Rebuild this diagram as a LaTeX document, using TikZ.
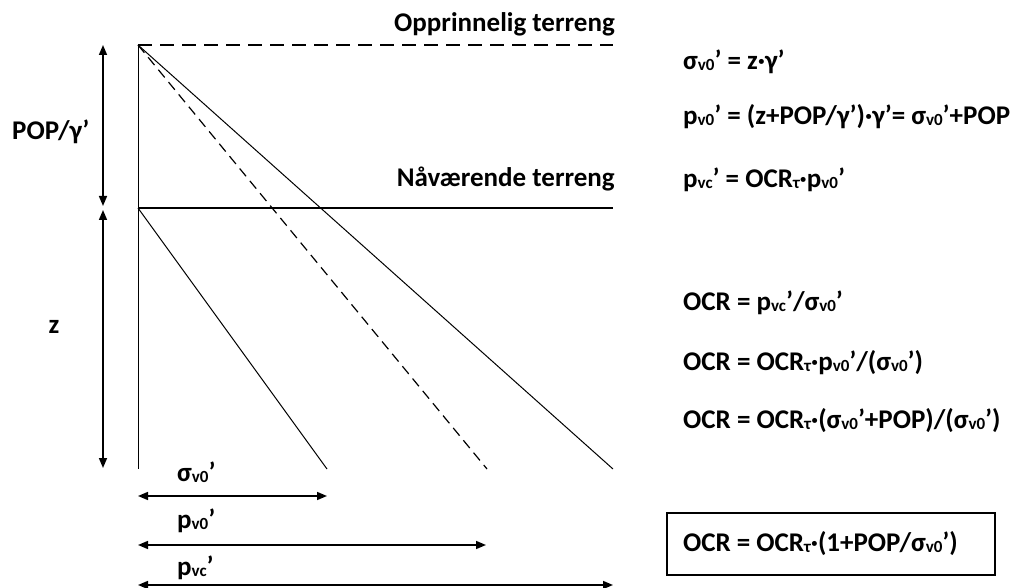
\documentclass[tikz,border=0pt]{standalone}
\usepackage{fontspec}
\setmainfont{Carlito}
\usetikzlibrary{arrows.meta}

\newcommand{\subtxt}[1]{\raisebox{-1pt}{\fontsize{17}{17}\selectfont #1}}

\begin{document}
\begin{tikzpicture}[
  x=1pt, y=-1pt,
  txt/.style={font=\bfseries\fontsize{27}{32}\selectfont, inner sep=0pt},
  eq/.style={txt, anchor=base west},
  thinline/.style={line width=1pt},
  dimarrow/.style={{Triangle[length=10pt,width=8pt]}-{Triangle[length=10pt,width=8pt]}, line width=1.5pt},
]
\useasboundingbox (0,0) rectangle (1015,588);

% === GROUND SURFACES ===
\coordinate (top) at (138,45);
\coordinate (topR) at (613,45);
\coordinate (now) at (138,208);
\coordinate (nowR) at (613,208);
\coordinate (bot) at (138,469);

\draw[line width=1.5pt, dash pattern=on 14pt off 8pt] (top) -- (topR);
\draw[line width=1.3pt] (now) -- (nowR);
\draw[thinline] (top) -- (bot);

\node[txt, anchor=base east] (orig) at (615,32) {Opprinnelig terreng};
\node[txt, anchor=base east] (curr) at (615,187) {Nåværende terreng};

% === STRESS LINES ===
\coordinate (sigEnd) at (327,469);
\coordinate (p0End) at (487,469);
\coordinate (pcEnd) at (613,469);
\draw[thinline] (now) -- (sigEnd);
\draw[line width=1.2pt, dash pattern=on 10pt off 6pt] (top) -- (p0End);
\draw[thinline] (top) -- (pcEnd);

% === DEPTH DIMENSIONS ===
\coordinate (d1) at (103,45);
\coordinate (d2) at (103,206);
\coordinate (d3) at (103,210);
\coordinate (d4) at (103,468);
\draw[dimarrow] (d1) -- (d2);
\draw[dimarrow] (d3) -- (d4);
\node[txt, anchor=base west] (popg) at (12,140) {POP/γ’};
\node[txt, anchor=base] (zlab) at (54,333) {z};

% === STRESS DIMENSIONS ===
\coordinate (a0) at (138,496);
\coordinate (a1) at (327,496);
\coordinate (b0) at (138,545);
\coordinate (b1) at (486,545);
\coordinate (c0) at (138,585);
\coordinate (c1) at (613,585);
\draw[dimarrow] (a0) -- (a1);
\draw[dimarrow] (b0) -- (b1);
\draw[dimarrow] (c0) -- (c1);
\node[eq] (siglab) at (177,481) {σ\subtxt{v0}’};
\node[eq] (p0lab) at (177,528) {p\subtxt{v0}’};
\node[eq] (pclab) at (177,575) {p\subtxt{vc}’};

% === EQUATIONS ===
\node[eq] (e1) at (683,70) {σ\subtxt{v0}’ = z·γ’};
\node[eq] (e2) at (683,125) {p\subtxt{v0}’ = (z+POP/γ’)·γ’= σ\subtxt{v0}’+POP};
\node[eq] (e3) at (683,188) {p\subtxt{vc}’ = OCR\subtxt{τ}·p\subtxt{v0}’};
\node[eq] (e4) at (683,310) {OCR = p\subtxt{vc}’/σ\subtxt{v0}’};
\node[eq] (e5) at (683,370) {OCR = OCR\subtxt{τ}·p\subtxt{v0}’/(σ\subtxt{v0}’)};
\node[eq] (e6) at (683,428) {OCR = OCR\subtxt{τ}·(σ\subtxt{v0}’+POP)/(σ\subtxt{v0}’)};
\node[txt, draw, line width=1.6pt, text width=296pt, align=flush left, inner xsep=16pt,
  minimum height=62pt] (result) at (831,544)
  {OCR = OCR\subtxt{τ}·(1+POP/σ\subtxt{v0}’)};
\end{tikzpicture}
\end{document}
